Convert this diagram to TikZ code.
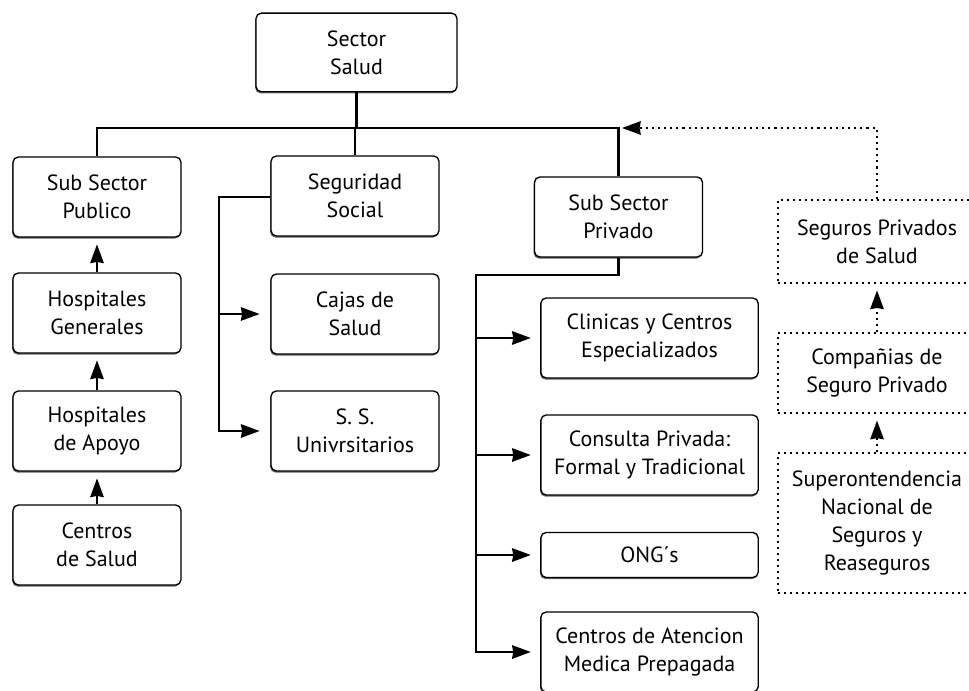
\documentclass[tikz,border=0pt]{standalone}
\usepackage{fontspec}
\setmainfont{PT Sans}
\usepackage{tikz}
\usetikzlibrary{arrows.meta,shadows}
\tikzset{
    rounded-box/.style = {draw=black, fill=white, line width=1pt, rectangle, rounded corners=4pt,
        minimum width=126pt, minimum height=60pt, align=center, inner sep=2pt,
        font=\fontsize{16.5}{21}\selectfont,
        drop shadow={shadow xshift=-0.6pt, shadow yshift=-1.2pt, opacity=0.6, fill=black}},
    wide-box/.style = {rounded-box, minimum width=163pt},
    dotted-box/.style = {draw=black, fill=white, line width=1.3pt, dash pattern=on 1.3pt off 3.2pt,
        rectangle, minimum width=148.5pt, minimum height=60pt, align=center, inner sep=2pt,
        font=\fontsize{16.5}{21}\selectfont},
    link/.style = {line width=1.8pt},
    link-arrow/.style = {link, -{Stealth[length=14pt, width=10pt, inset=0.8pt]}},
    dotted-arrow/.style = {line width=1.6pt, dash pattern=on 1.6pt off 3pt,
        -{Stealth[length=14pt, width=10pt, inset=0.8pt, sep=0pt]}},
}

\begin{document}
\begin{tikzpicture}[x=0.75pt, y=-0.75pt]
\useasboundingbox (0,0) rectangle (969,691);
\clip (0,0) rectangle (969,691);

% top
\node [rounded-box, minimum width=150.75pt, minimum height=59pt] (salud) at (356.5,52.5) {Sector\\Salud};

% left column
\node [rounded-box] (publico) at (97,197) {Sub Sector\\Publico};
\node [rounded-box] (generales) at (97,313) {Hospitales\\Generales};
\node [rounded-box] (apoyo) at (97,431) {Hospitales\\de Apoyo};
\node [rounded-box] (centrosalud) at (97,545) {Centros\\de Salud};

% middle column
\node [rounded-box] (seguridad) at (355,196) {Seguridad\\Social};
\node [rounded-box] (cajas) at (355,314) {Cajas de\\Salud};
\node [rounded-box] (univ) at (355,431) {S. S.\\Univrsitarios};

% private sector
\node [rounded-box] (privado) at (618.5,217) {Sub Sector\\Privado};
\node [wide-box] (clinicas) at (649.5,338) {Clinicas y Centros\\Especializados};
\node [wide-box] (consulta) at (649.5,455) {Consulta Privada:\\Formal y Tradicional};
\node [wide-box, minimum height=33.75pt] (ong) at (649.5,555) {ONG´s};
\node [wide-box] (atencion) at (649.5,652) {Centros de Atencion\\Medica Prepagada};

% insurance column
\node [dotted-box, minimum height=62pt] (seguros) at (877,241.5) {Seguros Privados\\de Salud};
\node [dotted-box] (companias) at (877,373) {Compañias de\\Seguro Privado};
\node [dotted-box, minimum height=105pt] (superin) at (877,523) {Superontendencia\\Nacional de\\Seguros y\\Reaseguros};

% bus
\coordinate (busR) at (618.5,128);
\coordinate (busTip) at (622,128);
\draw [link] (publico.north) |- (busR) -- (privado.north);
\draw [link] (salud.south) -- (salud.south |- busR);
\draw [link] (seguridad.north) -- (seguridad.north |- busR);

% public chain
\draw [link-arrow, shorten >=5pt] (centrosalud.north) -- (apoyo.south);
\draw [link-arrow, shorten >=5pt] (apoyo.north) -- (generales.south);
\draw [link-arrow, shorten >=5pt] (generales.north) -- (publico.south);

% social security
\coordinate (segL) at (219,197);
\draw [link-arrow, shorten >=8pt] (seguridad.west |- segL) -- (segL) |- (univ.west);
\draw [link-arrow, shorten >=8pt] (segL |- cajas.west) -- (cajas.west);

% private
\coordinate (privL) at (476,275);
\draw [link-arrow, shorten >=7pt] (privado.south) |- (privL) |- (atencion.west);
\foreach \n in {clinicas, consulta, ong}
    \draw [link-arrow, shorten >=7pt] (privL |- \n.west) -- (\n.west);

% insurance
\draw [dotted-arrow] (seguros.north) |- (busTip);
\draw [dotted-arrow, shorten >=5pt] (companias.north) -- (seguros.south);
\draw [dotted-arrow, shorten >=5pt] (superin.north) -- (companias.south);
\end{tikzpicture}
\end{document}
